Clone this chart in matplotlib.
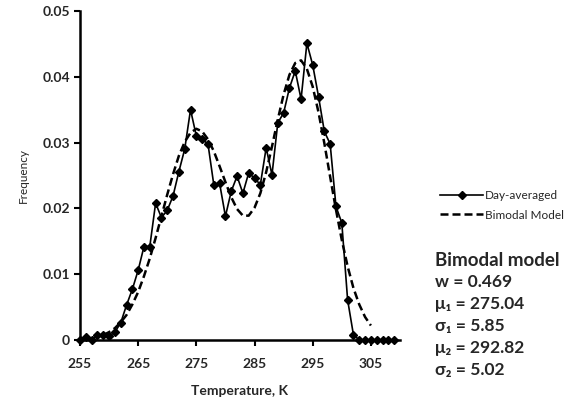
import matplotlib
matplotlib.use("Agg")
import matplotlib.pyplot as plt
from matplotlib.lines import Line2D

# Day-averaged histogram (1 K bins)
temps = list(range(255, 310))
freq = [
    0.0, 0.0005, 0.0, 0.0007, 0.0007, 0.0006, 0.0012, 0.0026, 0.0053, 0.0077,
    0.0106, 0.0142, 0.0142, 0.0208, 0.0186, 0.0197, 0.0219, 0.0256, 0.0290, 0.0350,
    0.0310, 0.0305, 0.0298, 0.0236, 0.0238, 0.0188, 0.0226, 0.0249, 0.0223, 0.0254,
    0.0246, 0.0236, 0.0292, 0.0251, 0.0330, 0.0345, 0.0383, 0.0409, 0.0366, 0.0451,
    0.0418, 0.0370, 0.0317, 0.0298, 0.0203, 0.0178, 0.0061, 0.0008, 0.0, 0.0,
    0.0, 0.0, 0.0, 0.0, 0.0,
]

# Bimodal model curve
model_t = list(range(259, 306))
model_f = [
    0.00075, 0.0012, 0.0018, 0.0027, 0.0038, 0.0054, 0.0073, 0.0097, 0.0124, 0.0155,
    0.0188, 0.0221, 0.0252, 0.0280, 0.0301, 0.0315, 0.0321, 0.0317, 0.0305, 0.0287,
    0.0264, 0.0240, 0.0217, 0.0199, 0.0189, 0.0189, 0.0201, 0.0223, 0.0255, 0.0294,
    0.0335, 0.0373, 0.0403, 0.0421, 0.0425, 0.0412, 0.0385, 0.0346, 0.0299, 0.0248,
    0.0198, 0.0152, 0.0112, 0.0079, 0.0054, 0.0035, 0.0022,
]

params = ["w = 0.469", "μ₁ = 275.04", "σ₁ = 5.85", "μ₂ = 292.82", "σ₂ = 5.02"]

txt = "#262626"
fam = ["Lato", "DejaVu Sans"]
plt.rcParams["font.family"] = fam

fig = plt.figure(figsize=(5.77, 4.07), dpi=100)
ax = fig.add_axes([0.1386, 0.1646, 0.5546, 0.8084])

ax.plot(model_t, model_f, color="black", lw=1.8, ls=(0, (3.2, 1.6)), zorder=2)
ax.plot(temps, freq, color="black", lw=1.2, marker="D", ms=3.6, zorder=3,
        clip_on=False)

ax.set_xlim(255, 310)
ax.set_ylim(0, 0.05)
ax.set_xticks([255, 265, 275, 285, 295, 305])
ax.set_yticks([0, 0.01, 0.02, 0.03, 0.04, 0.05])
ax.set_yticklabels(["0", "0.01", "0.02", "0.03", "0.04", "0.05"])
for s in ["top", "right"]:
    ax.spines[s].set_visible(False)
for s in ["left", "bottom"]:
    ax.spines[s].set_linewidth(1.8)
ax.tick_params(direction="out", length=4, width=1.5, labelsize=10,
               labelcolor=txt)
ax.tick_params(axis="x", pad=9)
ax.tick_params(axis="y", pad=3)
for lab in ax.get_xticklabels() + ax.get_yticklabels():
    lab.set_fontweight("bold")

ax.set_xlabel("Temperature, K", fontsize=10, fontweight="bold", color=txt,
              labelpad=11)
ax.set_ylabel("Frequency", fontsize=8.5, color=txt, labelpad=10)

handles = [
    Line2D([], [], color="black", lw=1.2, marker="D", ms=3.6, markevery=[1]),
    Line2D([], [], color="black", lw=1.8, ls=(0, (3.2, 1.6))),
]
handles[0].set_data([0, 1, 2], [0, 0, 0])
fig.legend(handles, ["Day-averaged", "Bimodal Model"], loc="upper left",
           bbox_to_anchor=(0.745, 0.56), frameon=False, fontsize=8.5,
           handlelength=3.6, handletextpad=0.15, labelspacing=0.75,
           labelcolor=txt)

fig.text(0.754, 0.36, "Bimodal model", fontsize=13.5, fontweight="bold",
         color=txt, va="center")
for i, p in enumerate(params):
    fig.text(0.754, 0.307 - i * 0.054, p, fontsize=12.5, fontweight="bold",
             color=txt, va="center")

fig.savefig("out.png", dpi=100)
